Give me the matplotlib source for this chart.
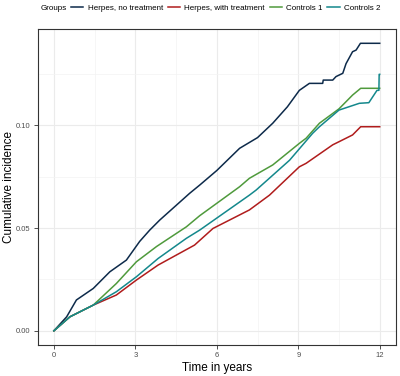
import matplotlib.pyplot as plt
from matplotlib.ticker import MultipleLocator

plt.rcParams['font.family'] = ['Liberation Sans', 'DejaVu Sans']

# values (time in years, cumulative incidence)
t_herpes_no = [0, 0.47, 0.83, 1.45, 2.06, 2.67, 3.16, 3.53, 3.9, 5.0, 5.37, 6.0, 6.84,
               7.5, 8.06, 8.6, 9.04, 9.41, 9.9, 9.92, 10.27, 10.39, 10.64, 10.76, 11.0,
               11.13, 11.29, 12.0]
y_herpes_no = [0, 0.0068, 0.015, 0.0206, 0.0287, 0.0344, 0.0435, 0.049, 0.0539, 0.0669,
               0.0709, 0.078, 0.0888, 0.094, 0.101, 0.109, 0.117, 0.1204, 0.1204, 0.122,
               0.122, 0.1237, 0.1253, 0.130, 0.1358, 0.1366, 0.1399, 0.1399]

t_herpes_tr = [0, 0.59, 1.45, 2.3, 3.04, 3.84, 5.18, 5.86, 7.2, 7.94, 9.04, 9.29, 10.27,
               10.5, 11.0, 11.3, 12.0]
y_herpes_tr = [0, 0.0068, 0.0125, 0.0174, 0.0247, 0.032, 0.0417, 0.0498, 0.0588, 0.066,
               0.0798, 0.0815, 0.0905, 0.092, 0.0953, 0.0993, 0.0993]

t_controls1 = [0, 0.59, 1.45, 2.3, 3.04, 3.78, 4.88, 5.37, 6.84, 7.2, 8.06, 9.04, 9.29,
               9.78, 10.5, 11.0, 11.3, 12.0]
y_controls1 = [0, 0.0068, 0.0125, 0.023, 0.0336, 0.041, 0.0506, 0.056, 0.0701, 0.0742,
               0.0807, 0.0912, 0.0937, 0.101, 0.108, 0.1147, 0.118, 0.118]

t_controls2 = [0, 0.59, 1.45, 2.3, 3.04, 3.84, 4.88, 5.37, 7.2, 7.45, 8.68, 9.53, 9.78,
               10.5, 11.25, 11.6, 11.9, 11.97, 11.98, 12.0]
y_controls2 = [0, 0.0068, 0.0125, 0.019, 0.0263, 0.0352, 0.045, 0.049, 0.066, 0.0685,
               0.083, 0.0961, 0.0993, 0.1074, 0.1107, 0.111, 0.117, 0.117, 0.1248, 0.1248]

groups = ['Herpes, no treatment', 'Herpes, with treatment', 'Controls 1', 'Controls 2']
colors = ['#0d2a4a', '#b01c1c', '#4f9a3c', '#14888c']

fig = plt.figure(figsize=(4, 3.76), dpi=100)
ax = fig.add_axes([0.094, 0.082, 0.896, 0.84])

series = [(t_herpes_no, y_herpes_no), (t_herpes_tr, y_herpes_tr),
          (t_controls1, y_controls1), (t_controls2, y_controls2)]
for (t, y), name, c in zip(series, groups, colors):
    ax.plot(t, y, color=c, lw=1.1, label=name)

ax.set_xlim(-0.6, 12.6)
ax.set_ylim(-0.007, 0.1467)
ax.xaxis.set_major_locator(MultipleLocator(3))
ax.xaxis.set_minor_locator(MultipleLocator(1.5))
ax.yaxis.set_major_locator(MultipleLocator(0.05))
ax.yaxis.set_minor_locator(MultipleLocator(0.025))
ax.yaxis.set_major_formatter(plt.FuncFormatter(lambda v, p: f'{v:.2f}'))
ax.grid(which='major', color='#ebebeb', lw=0.8)
ax.grid(which='minor', color='#f3f3f3', lw=0.5)
ax.set_axisbelow(True)
ax.tick_params(which='major', length=3, width=0.6, color='#333333',
               labelsize=5.5, labelcolor='#4d4d4d', pad=2)
ax.tick_params(which='minor', length=0)
for s in ax.spines.values():
    s.set_color('#333333')
    s.set_linewidth(0.8)

ax.set_xlabel('Time in years', fontsize=8.5)
ax.set_ylabel('Cumulative incidence', fontsize=8.5)
ax.yaxis.set_label_coords(-0.063, 0.5)
ax.xaxis.set_label_coords(0.5, -0.053)

fig.text(0.102, 0.978, 'Groups', fontsize=5.8, va='center', ha='left')
fig.legend(loc='center left', bbox_to_anchor=(0.178, 0.978), ncol=4, frameon=False,
           fontsize=5.8, handlelength=1.5, handletextpad=0.55, columnspacing=0.6,
           borderaxespad=0, borderpad=0)

fig.savefig('out.png', dpi=100)
